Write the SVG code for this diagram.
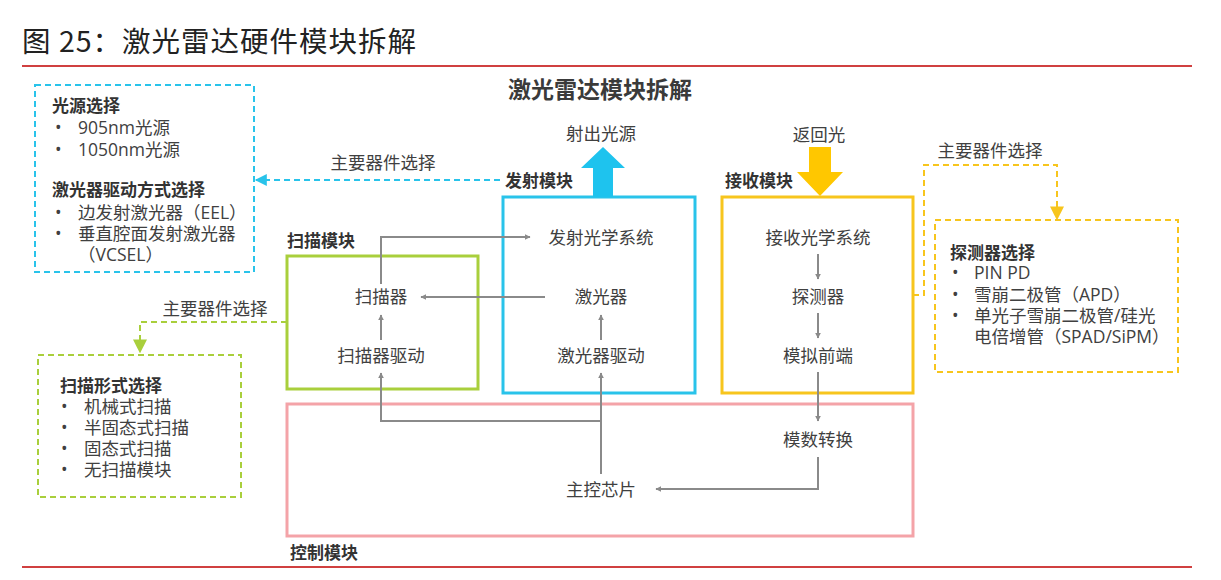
<svg xmlns="http://www.w3.org/2000/svg" width="1221" height="580" viewBox="0 0 1221 580">
<defs>
<style>
text{font-family:"Open Sans","Noto Sans CJK SC",sans-serif;fill:#404040;}
.t{font-size:17.5px;}
.n{font-size:17.5px;text-anchor:middle;}
.b{font-size:17px;font-weight:bold;fill:#333;}
.g{fill:none;stroke:#8a8a8a;stroke-width:2;}
.dc{fill:none;stroke:#29c3ea;stroke-width:2;stroke-dasharray:6 4;}
.dg{fill:none;stroke:#a9cf3c;stroke-width:2;stroke-dasharray:6 4;}
.dy{fill:none;stroke:#f7c51d;stroke-width:2;stroke-dasharray:6 4;}
</style>
<marker id="ag" viewBox="0 0 10 10" refX="9" refY="5" markerWidth="6" markerHeight="6" orient="auto" markerUnits="userSpaceOnUse"><path d="M0,0 L10,5 L0,10 z" fill="#8a8a8a"/></marker>
<marker id="ac" viewBox="0 0 10 10" refX="9" refY="5" markerWidth="14" markerHeight="12" orient="auto" markerUnits="userSpaceOnUse"><path d="M0,0 L10,5 L0,10 z" fill="#29c3ea"/></marker>
<marker id="agr" viewBox="0 0 10 10" refX="9" refY="5" markerWidth="14" markerHeight="14" orient="auto" markerUnits="userSpaceOnUse"><path d="M0,0 L10,5 L0,10 z" fill="#a9cf3c"/></marker>
<marker id="ay" viewBox="0 0 10 10" refX="9" refY="5" markerWidth="14" markerHeight="14" orient="auto" markerUnits="userSpaceOnUse"><path d="M0,0 L10,5 L0,10 z" fill="#f7c51d"/></marker>
</defs>
<rect width="1221" height="580" fill="#fff"/>

<g id="header">
<text x="22" y="52" style="font-family:'Noto Sans CJK SC',sans-serif;font-size:28.5px;letter-spacing:1px;fill:#222;">图 25：激光雷达硬件模块拆解</text>
<line x1="22" y1="66" x2="1192" y2="66" stroke="#c00000" stroke-width="1.5"/>
<text x="600" y="98" style="font-size:23px;font-weight:bold;text-anchor:middle;fill:#3a3a3a;">激光雷达模块拆解</text>
<line x1="22" y1="567" x2="1192" y2="567" stroke="#c00000" stroke-width="1.5"/>
</g>

<g id="light-source-choice">
<rect x="35" y="85" width="219" height="187" class="dc"/>
<text x="52" y="112" class="b">光源选择</text>
<text x="55" y="134" class="t">•</text><text x="78" y="134" class="t">905nm光源</text>
<text x="55" y="156" class="t">•</text><text x="78" y="156" class="t">1050nm光源</text>
<text x="52" y="196" class="b">激光器驱动方式选择</text>
<text x="55" y="219" class="t">•</text><text x="78" y="219" class="t">边发射激光器（EEL）</text>
<text x="55" y="240" class="t">•</text><text x="78" y="240" class="t">垂直腔面发射激光器</text>
<text x="78" y="261" class="t">（VCSEL）</text>
</g>

<g id="scan-choice">
<rect x="38" y="355" width="203" height="142" class="dg"/>
<text x="60" y="392" class="b">扫描形式选择</text>
<text x="61" y="413" class="t">•</text><text x="84" y="413" class="t">机械式扫描</text>
<text x="61" y="434" class="t">•</text><text x="84" y="434" class="t">半固态式扫描</text>
<text x="61" y="455" class="t">•</text><text x="84" y="455" class="t">固态式扫描</text>
<text x="61" y="476" class="t">•</text><text x="84" y="476" class="t">无扫描模块</text>
</g>

<g id="detector-choice">
<rect x="935" y="220" width="243" height="152" class="dy"/>
<text x="950" y="259" class="b">探测器选择</text>
<text x="952" y="279" class="t">•</text><text x="974" y="279" class="t">PIN PD</text>
<text x="952" y="301" class="t">•</text><text x="974" y="301" class="t">雪崩二极管（APD）</text>
<text x="952" y="322" class="t">•</text><text x="974" y="322" class="t">单光子雪崩二极管/硅光</text>
<text x="974" y="343" class="t">电倍增管（SPAD/SiPM）</text>
</g>

<g id="scan-module">
<rect x="287" y="256" width="191" height="133" fill="none" stroke="#a9cf3c" stroke-width="3"/>
<text x="287" y="247" class="b">扫描模块</text>
<text x="381" y="303" class="n">扫描器</text>
<text x="381" y="362" class="n">扫描器驱动</text>
</g>

<g id="emit-module">
<rect x="503" y="197" width="192" height="196" fill="none" stroke="#29c3ea" stroke-width="3"/>
<text x="505" y="187" class="b">发射模块</text>
<path d="M593,197 L593,168 L581,168 L603,147 L625,168 L613,168 L613,197 z" fill="#1ec3ee"/>
<text x="601" y="140" class="n">射出光源</text>
<text x="601" y="244" class="n">发射光学系统</text>
<text x="601" y="303" class="n">激光器</text>
<text x="601" y="362" class="n">激光器驱动</text>
</g>

<g id="receive-module">
<rect x="722" y="197" width="191" height="196" fill="none" stroke="#f7c51d" stroke-width="3"/>
<text x="725" y="187" class="b">接收模块</text>
<path d="M809,147 L831,147 L831,172 L843,172 L820,196 L797,172 L809,172 z" fill="#ffc700"/>
<text x="819" y="141" class="n">返回光</text>
<text x="818" y="244" class="n">接收光学系统</text>
<text x="818" y="303" class="n">探测器</text>
<text x="818" y="362" class="n">模拟前端</text>
</g>

<g id="control-module">
<rect x="287" y="404" width="626" height="132" fill="none" stroke="#f4a3a8" stroke-width="3"/>
<text x="290" y="559" class="b">控制模块</text>
<text x="818" y="446" class="n">模数转换</text>
<text x="601" y="496" class="n">主控芯片</text>
</g>

<g id="connectors">
<line x1="500" y1="180" x2="256" y2="180" class="dc" marker-end="url(#ac)"/>
<text x="383" y="169" class="n">主要器件选择</text>
<polyline points="287,322 140,322 140,352" class="dg" marker-end="url(#agr)"/>
<text x="215" y="315" class="n">主要器件选择</text>
<polyline points="913,295 924,295 924,165 1057,165 1057,219" class="dy" marker-end="url(#ay)"/>
<text x="990" y="157" class="n">主要器件选择</text>

<polyline points="381,284 381,237 530,237" class="g" marker-end="url(#ag)"/>
<line x1="545" y1="297" x2="421" y2="297" class="g" marker-end="url(#ag)"/>
<line x1="381" y1="340" x2="381" y2="315" class="g" marker-end="url(#ag)"/>
<line x1="601" y1="340" x2="601" y2="315" class="g" marker-end="url(#ag)"/>
<line x1="818" y1="254" x2="818" y2="279" class="g" marker-end="url(#ag)"/>
<line x1="818" y1="313" x2="818" y2="338" class="g" marker-end="url(#ag)"/>
<line x1="818" y1="372" x2="818" y2="421" class="g" marker-end="url(#ag)"/>
<polyline points="818,457 818,489 656,489" class="g" marker-end="url(#ag)"/>
<line x1="601" y1="474" x2="601" y2="373" class="g" marker-end="url(#ag)"/>
<polyline points="601,421 381,421 381,373" class="g" marker-end="url(#ag)"/>
</g>
</svg>
